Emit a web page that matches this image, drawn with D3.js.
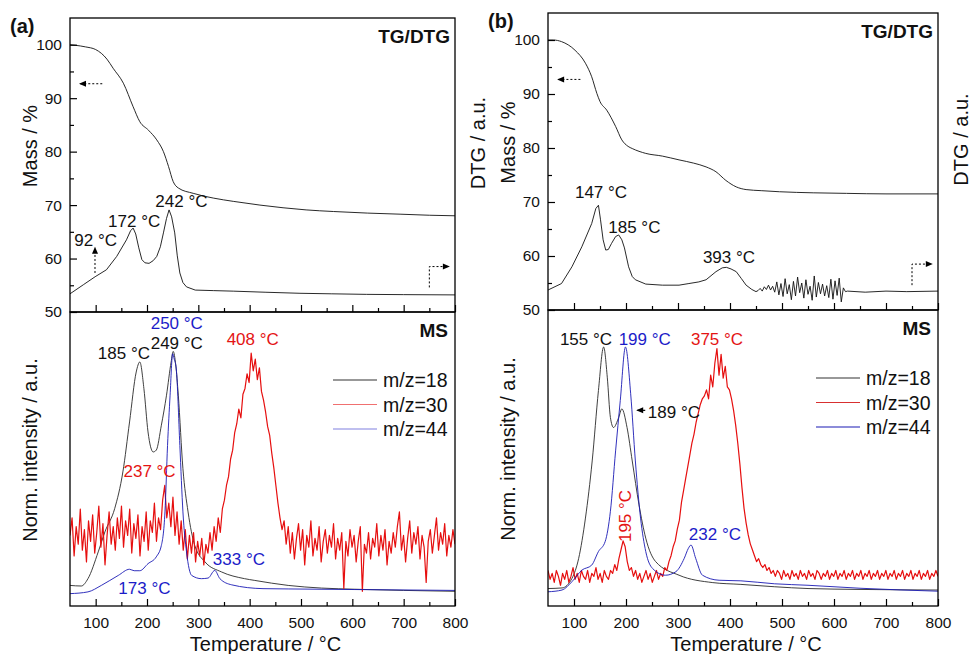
<!DOCTYPE html>
<html>
<head>
<meta charset="utf-8">
<script src="https://cdn.jsdelivr.net/npm/d3@7"></script>
<style>
	body { margin: 0; background: #fff; }
	svg { display: block; font-family: "Liberation Sans", Arial, sans-serif; }
</style>
</head>
<body>
<svg id="chart" width="971" height="654"></svg>
<script>
'use strict';

//Axis ticks
var tempMajor = [100, 200, 300, 400, 500, 600, 700, 800];
var tempMinor = [150, 250, 350, 450, 550, 650, 750];
var massMajor = [50, 60, 70, 80, 90, 100];
var massMinor = [55, 65, 75, 85, 95];

//TG curves [temperature, mass %]
var tgA = [[50,100],[60,99.9],[80,99.6],[100,99.1],[122,97.3],[134,95.6],[154,92.8],[173,88.4],[186,85.6],[203,84],[219,82.2],[232,80],[242,77.2],[251,74.4],[261,73.2],[290,72.2],[330,71.3],[368,70.7],[420,70.0],[465,69.5],[510,69.1],[563,68.8],[630,68.5],[693,68.3],[750,68.1],[800,68.0]];
var tgB = [[50,100],[60,100],[76,99.7],[102,98.1],[122,95.7],[134,93.2],[144,90.1],[150,88.6],[163,87.0],[180,84],[192,81.5],[204,80.3],[212,79.9],[238,79],[270,78.5],[302,77.8],[330,77.2],[354,76.5],[373,75.6],[392,74],[412,72.8],[431,72.3],[460,72.1],[495,71.9],[560,71.7],[624,71.6],[700,71.5],[800,71.5]];

//DTG curves [temperature, a.u.]
var dtgA = [[50,3.4],[76,5.1],[99,6.6],[121,7.9],[141,10.4],[160,13.5],[168,15.2],[173,15.7],[178,14.6],[184,12],[190,9.8],[196,9.2],[204,9.1],[212,9.6],[219,10.4],[226,12.2],[232,14.8],[238,17.5],[243,19.1],[248,17.8],[254,14.8],[259,10.5],[264,7.3],[270,5.5],[277,4.7],[294,4.1],[330,4.0],[368,3.9],[430,3.7],[498,3.5],[560,3.4],[628,3.3],[700,3.25],[800,3.2]];
var dtgB = [[50,3.7],[76,4.9],[96,8],[115,11.7],[134,16],[142,18.8],[147,19.4],[151,16.7],[156,13],[161,11.1],[166,11.2],[172,12.3],[180,13.6],[186,13.9],[192,13],[197,11.5],[205,8],[212,6.2],[218,5.6],[238,4.8],[270,4.6],[302,4.6],[321,4.9],[340,5.2],[354,5.6],[373,7.1],[385,7.8],[393,7.9],[402,7.6],[412,7.1],[422,5.8],[431,4.6],[442,3.8],[450,3.4],
	[454,3.6],[458,4.0],[462,3.5],[466,4.3],[470,3.8],[474,4.6],[478,3.7],[482,4.4],[486,3.3],[490,5.2],[494,2.8],[498,4.9],[502,2.5],[506,5.8],[510,3.0],[514,4.7],[518,1.9],[522,5.3],[526,2.6],[530,6.1],[534,3.2],[538,5.0],[542,2.2],[546,5.6],[550,2.9],[554,4.4],[558,1.8],[562,6.3],[566,2.4],[570,5.1],[574,3.0],[578,4.8],[582,2.6],[586,4.5],[590,2.3],[594,5.7],[598,2.0],[602,5.4],[606,2.7],[610,5.9],[614,1.5],[618,4.1],[622,3.4],
	[626,3.5],[660,3.3],[700,3.5],[740,3.4],[800,3.5]];

//MS curves [temperature, norm. intensity %]
var msA18 = [[50,7],[72,6.8],[85,9.3],[105,18.4],[118,25.2],[137,33.1],[153,45.6],[166,62.6],[179,79.6],[186,83],[194,73.9],[202,59.2],[212,52.4],[218,53],[228,61.5],[238,71.7],[247,83],[251,86.6],[256,82],[261,71.7],[270,46.7],[280,32],[293,20.6],[313,15],[345,11.6],[390,9.3],[410,8.7],[475,7],[540,6.1],[605,5.7],[700,5.3],[800,5]];
var msA44 = [[50,4.2],[85,4.8],[111,7],[144,10.4],[166,12.5],[175,12],[186,12],[202,14.4],[218,16.7],[228,20.6],[235,32],[240,54.6],[245,71.7],[250,85.8],[253,84],[257,80.7],[264,54.6],[270,32],[277,18.4],[287,10.4],[306,9.3],[319,9.5],[332,12.1],[342,9.3],[365,7.2],[426,5.9],[475,5.8],[605,5.6],[800,5.3]];
var msB18 = [[50,5.9],[77,6.1],[96,9.3],[109,16.1],[122,29.7],[135,49],[147,72.8],[157,87.5],[164,77.3],[170,63.7],[176,60.3],[186,63.7],[192,66.6],[202,60.3],[212,49],[225,34.2],[238,22.9],[257,15],[302,10.4],[367,7.9],[421,7.3],[486,6.5],[550,5.9],[650,5.6],[800,5.4]];
var msB44 = [[50,4.8],[77,5.4],[96,8.2],[115,12.1],[134,13.8],[147,18.4],[160,21.8],[170,32],[180,52.4],[189,69.4],[199,87.5],[209,71.7],[218,49],[228,29.7],[238,18.4],[251,12.7],[276,10.4],[296,11.6],[312,16.1],[320,19.5],[325,20.6],[334,16.1],[347,10.4],[379,8.7],[421,8.5],[486,7.5],[550,7],[650,6],[800,5]];

//m/z=30 is read at even steps from 50 to 800 °C
var msA30 = [24,30,17,27,21,33,19,26,15,29,22,31,18,25,34,20,28,14,24,32,21,27,19,30,23,34,20,29,24,33,18,28,23,31,17,27,22,32,19,29,25,35,22,30,26,36,41,30,35,27,
	37,24,32,21,29,19,26,16,24,18,25,15,22,17,23,14,21,18,25,19,27,22,30,25,33,36,41,44,50,53,59,62,67,64,72,74,79,76,86,80,84,77,81,73,70,66,61,58,52,47,
	41,35,30,26,29,21,27,18,25,16,23,28,19,26,14,24,20,29,17,23,19,27,15,22,26,18,24,20,28,16,23,19,25,6,22,17,26,20,24,15,22,27,5,21,18,25,16,23,20,28,
	17,24,19,26,14,22,18,25,20,27,32,19,24,15,23,29,18,25,21,27,16,24,20,8,22,26,18,24,30,19,25,21,28,17,24,20,26,21];
var msB30 = [12,9,11,8,12,10,7,11,9,12,8,10,13,9,11,8,12,10,9,12,8,11,10,13,9,11,8,12,10,9,12,11,14,12,16,19,22,20,15,12,13,10,12,9,11,8,10,12,9,11,
	8,10,12,9,11,10,13,12,15,17,20,22,26,29,35,39,43,47,51,55,58,62,65,68,70,71,73,70,78,74,82,87,78,85,77,81,74,73,70,66,61,55,48,40,33,28,24,21,19,17,
	15,16,14,13,14,12,13,11,12,10,12,11,9,12,10,11,9,12,10,11,9,12,10,11,9,12,10,11,9,12,11,9,11,10,12,9,11,10,12,9,11,10,12,9,11,10,12,9,11,10,
	12,9,11,10,12,9,11,10,12,9,11,10,12,9,11,10,12,9,11,10,12,9,11,10,12,9,11,10,12,9,11,10,12,9,11,10,12,10];

var legendNames = ['m/z=18', 'm/z=30', 'm/z=44'];

//Peak labels [text, temperature, value, colour]
var tgLabelsA = [['92 °C', 100, 62.4], ['172 °C', 175, 65.9], ['242 °C', 267, 69.6]];
var tgLabelsB = [['147 °C', 152, 70.7], ['185 °C', 216, 64.3], ['393 °C', 398, 58.7]];
var msLabelsA = [['185 °C', 155, 84.0, 'k'], ['249 °C', 258, 87.4, 'k'], ['250 °C', 258, 94.2, 'b'], ['408 °C', 406, 88.8, 'r'], ['237 °C', 205, 43.9, 'r'], ['173 °C', 195, 4.1, 'b'], ['333 °C', 379, 13.9, 'b']];
var msLabelsB = [['155 °C', 123, 88.2, 'k'], ['199 °C', 236, 88.2, 'b'], ['375 °C', 375, 88.2, 'r'], ['232 °C', 371, 22.3, 'b']];

var colors = { k: '#111', r: '#e41414', b: '#1c1cc8' };
var lineColors = ['#2a2a2a', '#e60f0f', '#1a1ab4'];

var svg = d3.select('#chart');

var panels = [
	{ name: '(a)', left: 70, right: 455, top: 18, mid: 312, bottom: 606,
		tg: tgA, dtg: dtgA, ms: [msA18, msA30, msA44], tgLabels: tgLabelsA, msLabels: msLabelsA,
		legendColors: ['#333', '#f07070', '#8080e0'] },
	{ name: '(b)', left: 548, right: 938, top: 13, mid: 310, bottom: 606,
		tg: tgB, dtg: dtgB, ms: [msB18, msB30, msB44], tgLabels: tgLabelsB, msLabels: msLabelsB,
		legendColors: ['#333', '#d83030', '#1a1ab4'] }
];

//Turn the evenly read m/z=30 series into [temperature, value] pairs
function toPairs(values) {
	var step = 750 / (values.length - 1);
	return values.map(function(v, i) { return [50 + i * step, v]; });
}

function arrowHead(g, x, y, dir) {
	//dir: 'l', 'r', 'u'
	var p;
	if(dir == 'l') p = [[x, y], [x + 7, y - 3], [x + 7, y + 3]];
	else if(dir == 'r') p = [[x, y], [x - 7, y - 3], [x - 7, y + 3]];
	else p = [[x, y], [x - 3, y + 7], [x + 3, y + 7]];
	g.append('path').attr('d', d3.line()(p) + 'Z').attr('fill', '#000');
}

function drawPanel(p, idx) {
	var g = svg.append('g');

	var x = d3.scaleLinear().domain([50, 800]).range([p.left, p.right]);
	var yMass = d3.scaleLinear().domain([50, 105]).range([p.mid, p.top]);
	var yDtg = d3.scaleLinear().domain([0, 55]).range([p.mid, p.top]);
	var yMs = d3.scaleLinear().domain([0, 100]).range([p.bottom, p.mid]);

	//Clip paths for both plots
	var defs = svg.append('defs');
	defs.append('clipPath').attr('id', 'clipTop' + idx).append('rect')
		.attr('x', p.left).attr('y', p.top).attr('width', p.right - p.left).attr('height', p.mid - p.top);
	defs.append('clipPath').attr('id', 'clipMs' + idx).append('rect')
		.attr('x', p.left).attr('y', p.mid).attr('width', p.right - p.left).attr('height', p.bottom - p.mid);

	var smooth = function(ys) {
		return d3.line().x(function(d) { return x(d[0]); }).y(function(d) { return ys(d[1]); }).curve(d3.curveMonotoneX);
	};
	var rough = function(ys) {
		return d3.line().x(function(d) { return x(d[0]); }).y(function(d) { return ys(d[1]); });
	};

	//TG/DTG curves
	var top = g.append('g').attr('clip-path', 'url(#clipTop' + idx + ')');
	top.append('path').attr('d', smooth(yMass)(p.tg))
		.attr('fill', 'none').attr('stroke', '#111').attr('stroke-width', 0.9);
	top.append('path').attr('d', rough(yDtg)(p.dtg))
		.attr('fill', 'none').attr('stroke', '#111').attr('stroke-width', 0.9).attr('stroke-linejoin', 'round');

	//MS curves
	var ms = g.append('g').attr('clip-path', 'url(#clipMs' + idx + ')');
	p.ms.forEach(function(series, i) {
		var data = i == 1 ? toPairs(series) : series;
		ms.append('path').attr('d', (i == 1 ? rough(yMs) : smooth(yMs))(data))
			.attr('fill', 'none').attr('stroke', lineColors[i])
			.attr('stroke-width', i == 1 ? 1.2 : 0.9).attr('stroke-linejoin', 'round');
	});

	//Frames
	g.append('rect').attr('x', p.left).attr('y', p.top).attr('width', p.right - p.left).attr('height', p.mid - p.top)
		.attr('fill', 'none').attr('stroke', '#000').attr('stroke-width', 1.3);
	g.append('rect').attr('x', p.left).attr('y', p.mid).attr('width', p.right - p.left).attr('height', p.bottom - p.mid)
		.attr('fill', 'none').attr('stroke', '#000').attr('stroke-width', 1.3);

	//Axes with inward ticks
	var axes = [
		{ axis: d3.axisBottom(x).tickValues(tempMajor).tickSize(-7).tickPadding(11), y: p.bottom },
		{ axis: d3.axisBottom(x).tickValues(tempMinor).tickSize(-4).tickFormat(''), y: p.bottom },
		{ axis: d3.axisBottom(x).tickValues(tempMajor).tickSize(-7).tickFormat(''), y: p.mid },
		{ axis: d3.axisBottom(x).tickValues(tempMinor).tickSize(-4).tickFormat(''), y: p.mid },
	];
	axes.forEach(function(a) {
		var ag = g.append('g').attr('transform', 'translate(0,' + a.y + ')').call(a.axis);
		ag.select('.domain').remove();
	});
	g.append('g').attr('transform', 'translate(' + p.left + ',0)')
		.call(d3.axisLeft(yMass).tickValues(massMajor).tickSize(-7).tickPadding(8));
	g.append('g').attr('transform', 'translate(' + p.left + ',0)')
		.call(d3.axisLeft(yMass).tickValues(massMinor).tickSize(-4).tickFormat(''));
	g.selectAll('.domain').remove();
	g.selectAll('.tick line').attr('stroke', '#000').attr('stroke-width', 1.2);
	g.selectAll('.tick text').attr('font-size', 15.5).attr('fill', '#111')
		.attr('font-family', '"Liberation Sans", Arial, sans-serif');

	//Axis titles
	var title = function(text, tx, ty, rot, size, weight, anchor) {
		return g.append('text').text(text)
			.attr('transform', 'translate(' + tx + ',' + ty + ')' + (rot ? ' rotate(' + rot + ')' : ''))
			.attr('text-anchor', anchor || 'middle').attr('font-size', size).attr('font-weight', weight || 'normal')
			.attr('fill', '#111');
	};
	title('Mass / %', p.left - 33, (p.top + p.mid) / 2 - 19, -90, 20);
	title('DTG / a.u.', p.right + 30, (p.top + p.mid) / 2 - 22, -90, 20);
	title('Norm. intensity / a.u.', p.left - 33, (p.mid + p.bottom) / 2 - 9, -90, 20);
	title('Temperature / °C', (p.left + p.right) / 2 + 3, 651, 0, 20);
	title(p.name, p.left - 60, p.top + 15, 0, 20, 'bold', 'start');
	title('TG/DTG', p.right - 5, p.top + 25, 0, 19, 'bold', 'end');
	title('MS', p.right - 7, p.mid + 25, 0, 19, 'bold', 'end');

	//Peak labels
	p.tgLabels.forEach(function(l) {
		title(l[0], x(l[1]), yMass(l[2]), 0, 17);
	});
	p.msLabels.forEach(function(l) {
		title(l[0], x(l[1]), yMs(l[2]), 0, 17).attr('fill', colors[l[3]]);
	});

	//Legend
	var legendY = [68, 92.5, 117];
	legendNames.forEach(function(n, i) {
		var ly = p.mid + legendY[i];
		g.append('line').attr('x1', p.right - 122).attr('x2', p.right - 78).attr('y1', ly).attr('y2', ly)
			.attr('stroke', p.legendColors[i]).attr('stroke-width', 1.2);
		g.append('text').text(n).attr('x', p.right - 72).attr('y', ly + 7)
			.attr('font-size', 19.5).attr('fill', '#111');
	});

	//Dashed arrows pointing to the axis each curve belongs to
	var dash = function(pts) {
		g.append('path').attr('d', d3.line()(pts)).attr('fill', 'none')
			.attr('stroke', '#000').attr('stroke-width', 1).attr('stroke-dasharray', '2,2');
	};
	var ay = yMass(92.7);
	dash([[x(70), ay], [x(116), ay]]);
	arrowHead(g, x(67.5), ay, 'l');
	var rx = x(750), ry = yMass(58.5);
	dash([[rx, yMass(54.6)], [rx, ry], [x(786), ry]]);
	arrowHead(g, x(790), ry, 'r');

	return { g: g, x: x, yMass: yMass, yMs: yMs, title: title, dash: dash };
}

var pa = drawPanel(panels[0], 0);
var pb = drawPanel(panels[1], 1);

//Extra annotations of panel (a): arrow under the 92 °C shoulder
pa.dash([[pa.x(98.7), pa.yMass(57.3)], [pa.x(98.7), pa.yMass(61)]]);
arrowHead(pa.g, pa.x(98.7), pa.yMass(62.2), 'u');

//Extra annotations of panel (b): 189 °C pointer and rotated 195 °C label
pb.g.append('line').attr('x1', pb.x(222)).attr('x2', pb.x(237)).attr('y1', pb.yMs(66.1)).attr('y2', pb.yMs(66.1))
	.attr('stroke', '#000').attr('stroke-width', 1.2);
arrowHead(pb.g, pb.x(219.6), pb.yMs(66.1), 'l');
pb.title('189 °C', pb.x(242), pb.yMs(63.5), 0, 17, 'normal', 'start');
pb.title('195 °C', pb.x(209), pb.yMs(21.6), -90, 17, 'normal', 'start').attr('fill', colors.r);
</script>
</body>
</html>
